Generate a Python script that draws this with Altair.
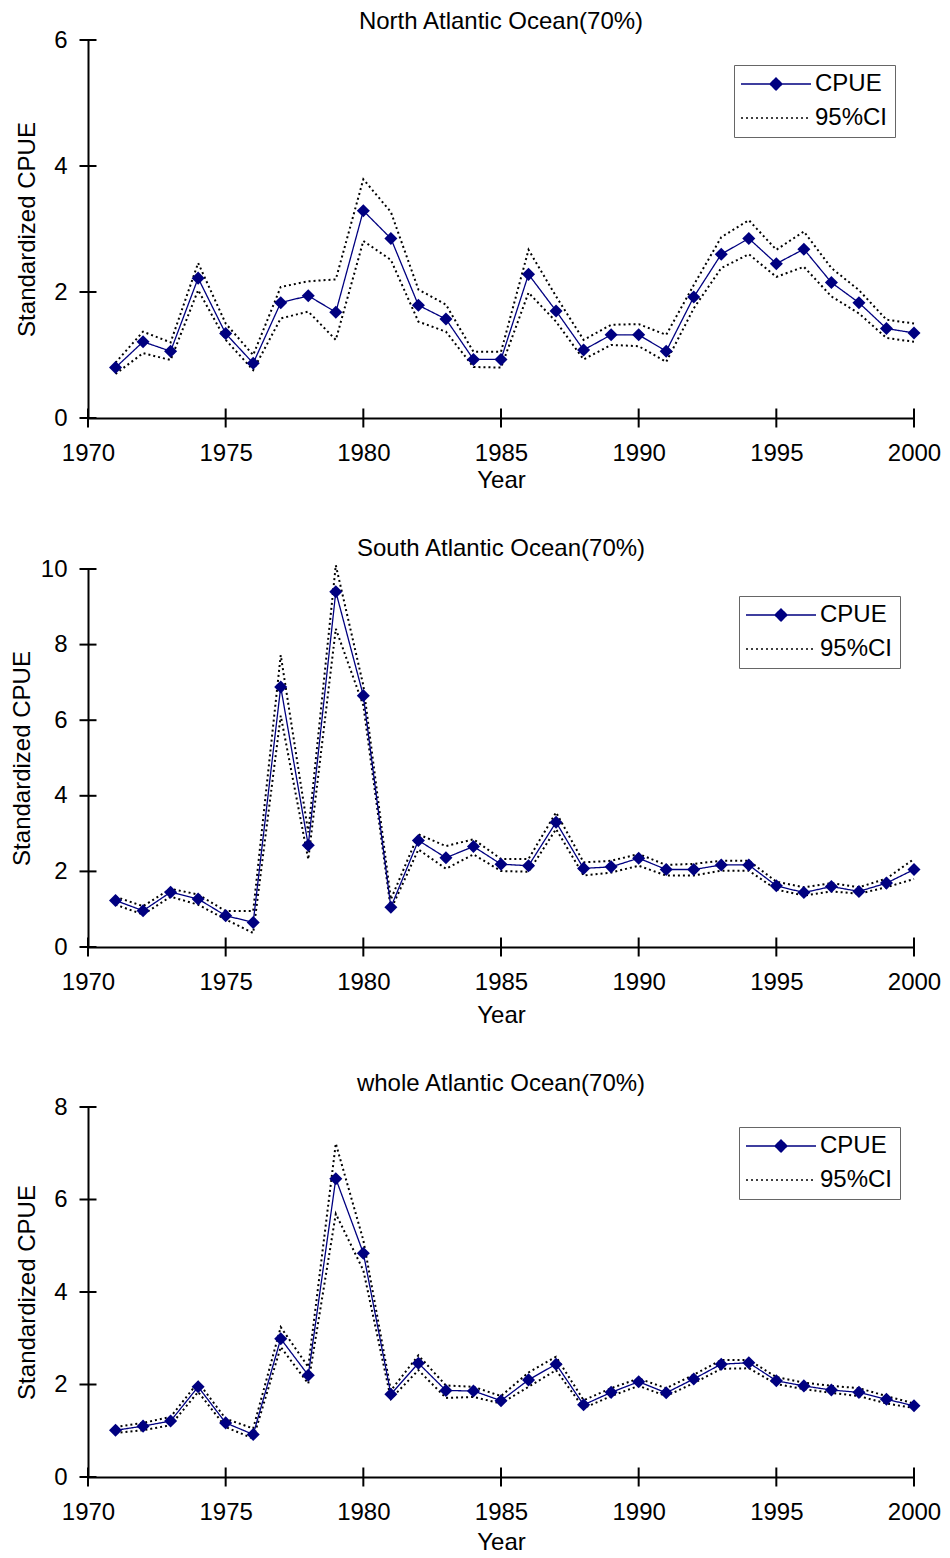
import altair as alt
import pandas as pd

years = list(range(1971, 2001))

north_cpue = [0.80, 1.21, 1.06, 2.22, 1.34, 0.87, 1.83, 1.94, 1.68, 3.29, 2.85, 1.79, 1.57, 0.93, 0.93,
              2.28, 1.70, 1.08, 1.32, 1.32, 1.06, 1.92, 2.60, 2.85, 2.45, 2.68, 2.15, 1.83, 1.42, 1.35]
north_upper = [0.88, 1.37, 1.20, 2.46, 1.50, 1.00, 2.08, 2.17, 2.20, 3.79, 3.27, 2.04, 1.80, 1.05, 1.05,
               2.67, 1.93, 1.24, 1.48, 1.49, 1.32, 2.11, 2.87, 3.14, 2.67, 2.96, 2.38, 2.03, 1.56, 1.50]
north_lower = [0.70, 1.03, 0.92, 2.03, 1.24, 0.76, 1.58, 1.69, 1.24, 2.81, 2.51, 1.53, 1.37, 0.81, 0.80,
               1.99, 1.53, 0.93, 1.16, 1.14, 0.89, 1.74, 2.38, 2.60, 2.24, 2.40, 1.93, 1.66, 1.27, 1.21]

south_cpue = [1.23, 0.96, 1.45, 1.27, 0.83, 0.65, 6.88, 2.69, 9.40, 6.65, 1.05, 2.82, 2.36, 2.66, 2.19,
              2.15, 3.30, 2.08, 2.12, 2.35, 2.05, 2.05, 2.17, 2.17, 1.62, 1.44, 1.60, 1.47, 1.69, 2.05]
south_upper = [1.33, 1.08, 1.54, 1.39, 0.95, 0.95, 7.72, 3.03, 10.10, 6.92, 1.26, 2.98, 2.67, 2.85, 2.33,
               2.33, 3.56, 2.24, 2.28, 2.46, 2.17, 2.20, 2.28, 2.28, 1.73, 1.58, 1.69, 1.58, 1.81, 2.33]
south_lower = [1.12, 0.86, 1.33, 1.12, 0.73, 0.37, 6.12, 2.32, 8.42, 6.39, 0.99, 2.58, 2.07, 2.45, 2.01,
               1.99, 3.12, 1.89, 1.97, 2.15, 1.89, 1.89, 2.02, 2.02, 1.52, 1.36, 1.47, 1.41, 1.58, 1.80]

whole_cpue = [1.01, 1.10, 1.21, 1.95, 1.17, 0.92, 2.99, 2.20, 6.45, 4.84, 1.79, 2.46, 1.87, 1.86, 1.65,
              2.10, 2.44, 1.56, 1.83, 2.06, 1.82, 2.12, 2.44, 2.47, 2.08, 1.97, 1.88, 1.83, 1.68, 1.54]
whole_upper = [1.08, 1.17, 1.30, 2.05, 1.26, 1.05, 3.24, 2.38, 7.21, 5.12, 1.87, 2.63, 1.98, 1.95, 1.75,
               2.26, 2.60, 1.66, 1.92, 2.13, 1.92, 2.21, 2.53, 2.53, 2.16, 2.04, 1.97, 1.92, 1.75, 1.59]
whole_lower = [0.95, 1.01, 1.12, 1.84, 1.08, 0.83, 2.81, 2.02, 5.69, 4.47, 1.69, 2.31, 1.71, 1.73, 1.59,
               1.95, 2.31, 1.49, 1.75, 1.97, 1.75, 2.03, 2.34, 2.35, 2.01, 1.90, 1.82, 1.75, 1.59, 1.49]

titles = ["North Atlantic Ocean(70%)", "South Atlantic Ocean(70%)", "whole Atlantic Ocean(70%)"]
y_max = [6, 10, 8]
x_ticks = [1970, 1975, 1980, 1985, 1990, 1995, 2000]
series_names = ["CPUE", "95%CI"]

FONT = "Liberation Sans"
FS = 24
NAVY = "#000080"

stroke_scale = alt.Scale(domain=series_names, range=[NAVY, "black"])
fill_scale = alt.Scale(domain=series_names, range=[NAVY, "black"])
dash_scale = alt.Scale(domain=series_names, range=[[1, 0], [2, 3]])
shape_scale = alt.Scale(domain=series_names,
                        range=["M-5,0H5M0,-0.85L0.85,0L0,0.85L-0.85,0Z", "M-5,0H5"])


def panel(title, cpue, upper, lower, ymax, height, lx, ly, ytp, xtp, toff):
    df = pd.DataFrame({
        "year": years * 3,
        "value": cpue + upper + lower,
        "part": ["CPUE"] * len(years) + ["upper"] * len(years) + ["lower"] * len(years),
        "series": ["CPUE"] * len(years) + ["95%CI"] * (2 * len(years)),
    })
    y_ticks = list(range(0, ymax + 1, 2))
    x = alt.X("year:Q", title="Year",
              scale=alt.Scale(domain=[1970, 2000], nice=False, zero=False),
              axis=alt.Axis(values=x_ticks, format="d", ticks=False, grid=False,
                            domainColor="black", domainWidth=2, labelFlush=False,
                            labelFont=FONT, labelFontSize=FS, labelColor="black", labelPadding=23,
                            titleFont=FONT, titleFontSize=FS, titleFontWeight="normal",
                            titleColor="black", titlePadding=xtp))
    y = alt.Y("value:Q", title="Standardized CPUE",
              scale=alt.Scale(domain=[0, ymax], nice=False),
              axis=alt.Axis(values=y_ticks, ticks=False, grid=False,
                            domainColor="black", domainWidth=2,
                            labelFont=FONT, labelFontSize=FS, labelColor="black", labelPadding=21,
                            titleFont=FONT, titleFontSize=FS, titleFontWeight="normal",
                            titleColor="black", titlePadding=ytp))
    leg = alt.Legend(title=None, orient="none", legendX=lx, legendY=ly, direction="vertical",
                     strokeColor="#666666", fillColor="white", padding=7, rowPadding=10,
                     labelFont=FONT, labelFontSize=FS, labelColor="black", labelOffset=27,
                     symbolSize=196, symbolStrokeWidth=1.5, symbolOffset=23, labelLimit=300)

    base = alt.Chart(df)
    ci = base.transform_filter("datum.part != 'CPUE'").mark_line(strokeWidth=2).encode(
        x=x, y=y,
        stroke=alt.Stroke("series:N", scale=stroke_scale, legend=None),
        strokeDash=alt.StrokeDash("series:N", scale=dash_scale, legend=None),
        detail="part:N")
    line = base.transform_filter("datum.part == 'CPUE'").mark_line(strokeWidth=1.3).encode(
        x=x, y=y,
        stroke=alt.Stroke("series:N", scale=stroke_scale, legend=None),
        strokeDash=alt.StrokeDash("series:N", scale=dash_scale, legend=None))
    pts = base.transform_filter("datum.part == 'CPUE'").mark_point(
        shape="diamond", filled=True, size=170, color=NAVY, opacity=1).encode(x=x, y=y)

    leg_df = pd.DataFrame({"series": series_names, "year": [None, None], "value": [None, None]})
    legend_layer = alt.Chart(leg_df).mark_point(filled=True, opacity=1, strokeWidth=1.5).encode(
        x=x, y=y,
        fill=alt.Fill("series:N", scale=fill_scale, legend=leg),
        stroke=alt.Stroke("series:N", scale=stroke_scale, legend=leg),
        shape=alt.Shape("series:N", scale=shape_scale, legend=leg),
        strokeDash=alt.StrokeDash("series:N", scale=dash_scale, legend=leg))

    xt_df = pd.DataFrame({"year": x_ticks, "value": [0] * len(x_ticks)})
    xt = alt.Chart(xt_df).mark_tick(orient="vertical", size=19, thickness=2, color="black",
                                    opacity=1).encode(x=x, y=y)
    yt_df = pd.DataFrame({"year": [1970] * len(y_ticks), "value": y_ticks})
    yt = alt.Chart(yt_df).mark_tick(orient="horizontal", size=17, thickness=2, color="black",
                                    opacity=1).encode(x=x, y=y)

    return alt.layer(legend_layer, ci, line, pts, xt, yt).properties(
        width=826, height=height,
        title=alt.TitleParams(title, font=FONT, fontSize=FS, fontWeight="normal",
                              color="black", offset=toff))


p1 = panel(titles[0], north_cpue, north_upper, north_lower, y_max[0], 378, 646, 25, 14, 3, -6)
p2 = panel(titles[1], south_cpue, south_upper, south_lower, y_max[1], 378, 651, 27, 6, 9, -4)
p3 = panel(titles[2], whole_cpue, whole_upper, whole_lower, y_max[2], 370, 651, 20, 14, 6, -1)

chart = alt.vconcat(p1, p2, p3, spacing=45).resolve_scale(
    x="independent", y="independent", stroke="independent", fill="independent",
    shape="independent", strokeDash="independent"
).properties(padding={"left": 2, "top": 2, "right": 0, "bottom": 0}).configure_view(stroke=None)

chart.save("out.html", embed_options={"renderer": "svg", "actions": False})
